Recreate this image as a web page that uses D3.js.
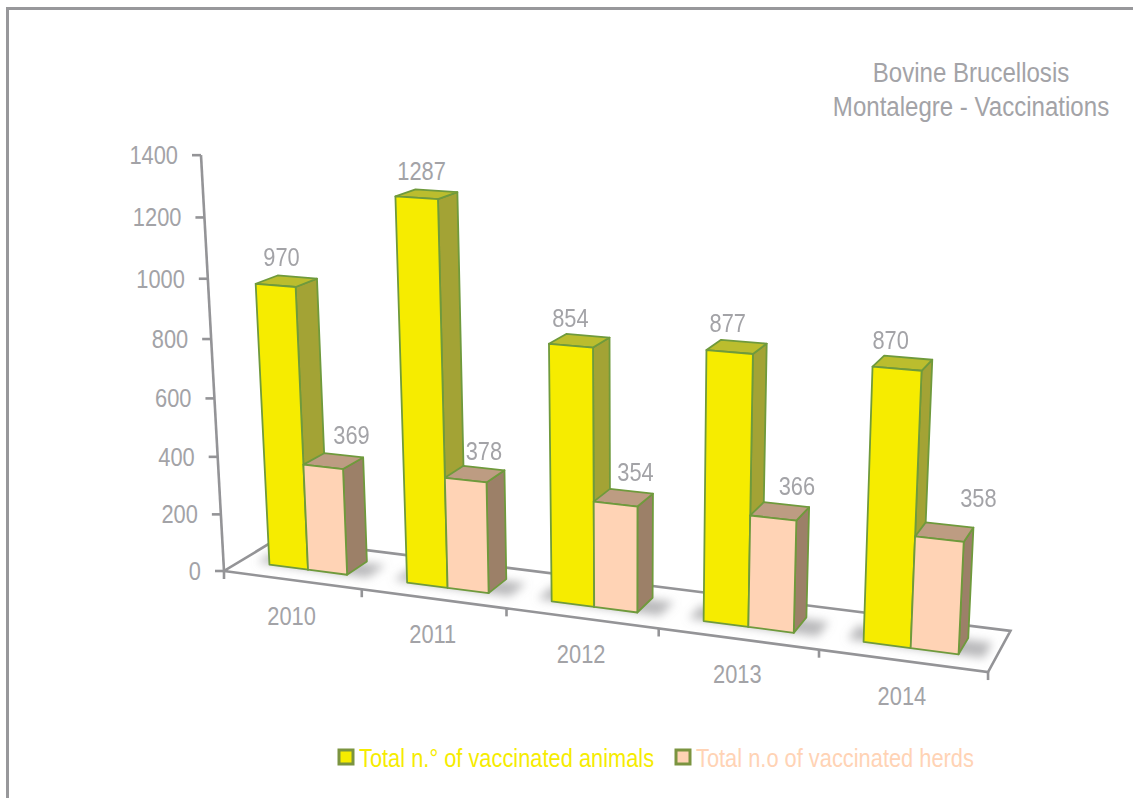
<!DOCTYPE html>
<html>
<head>
<meta charset="utf-8">
<script src="https://cdnjs.cloudflare.com/ajax/libs/d3/7.8.5/d3.min.js"></script>
<style>
html,body{margin:0;padding:0;background:#fff;}
svg{display:block;}
text{font-family:"Liberation Sans",Arial,sans-serif;}
</style>
</head>
<body>
<svg id="c" width="1133" height="798"></svg>
<script>
const years = ["2010","2011","2012","2013","2014"];
const animals = [970,1287,854,877,870];
const herds = [369,378,354,366,358];
const valueTicks = [0,200,400,600,800,1000,1200,1400];
const titleLines = ["Bovine Brucellosis","Montalegre - Vaccinations"];
const seriesNames = ["Total n.° of vaccinated animals","Total n.o of vaccinated herds"];
const animalLabelNudge = [[-5,-24],[-5,-23],[-9,-23],[-9,-24],[-12,-23]];
const herdLabelNudge = [[18,-26],[9,-23],[12,-26],[17,-25],[34,-34]];

const W = 1133, H = 798;
const svg = d3.select("#c");
const GREY = "#a3a3a7", AXIS = "#949497", EDGE = "#6f9a3c";
const FS = 26, SX = 0.84;

// Perspective camera: unit box X (categories), Y (value), Z (depth)
const O = [224,571];
const VX = [-5379,-170], VY = [628,7870], VZ = [1445,-167];
const ka = -0.12, kb = 0.0454, kc = -0.0539;
function project(X,Y,Z){
  const a=ka*X,b=kb*Z,c=kc*Y,d=1+a+b+c;
  return [(a*VX[0]+b*VZ[0]+c*VY[0]+O[0])/d,(a*VX[1]+b*VZ[1]+c*VY[1]+O[1])/d];
}

const band = d3.scaleBand().domain(years).range([0,1]).paddingInner(0.43).paddingOuter(0.215);
const cell = d3.scaleBand().domain(years).range([0,1]);
const inner = d3.scaleBand().domain(["animals","herds"]).range([0,band.bandwidth()]);
const yS = d3.scaleLinear().domain([0,1400]).range([0,1]);
const depth = d3.scaleLinear().domain([0,1]).range([0.3055,0.7075]);

const defs = svg.append("defs");
defs.append("filter").attr("id","blur").attr("x","-30%").attr("y","-60%").attr("width","160%").attr("height","220%")
  .append("feGaussianBlur").attr("stdDeviation",5);

// frame
svg.append("path").attr("d",`M7.5,${H} V8.5 H${W}`).attr("fill","none").attr("stroke","#98989b").attr("stroke-width",3);

// title
const titleG = svg.append("g").attr("fill",GREY).attr("font-size",27.5).attr("text-anchor","middle");
titleG.selectAll("text").data(titleLines).join("text")
  .attr("transform",(d,i)=>`translate(971,${i?116:82}) scale(0.875,1)`)
  .text(d=>d);

const line = d3.line();
// floor
const floorPts=[project(0,0,0),project(1,0,0),project(1,0,1),project(0,0,1)];
svg.append("path").attr("d",line(floorPts)+"Z").attr("fill","#fff").attr("stroke",AXIS).attr("stroke-width",2.6);

// y axis
svg.append("path").attr("d",line([project(0,yS(0),0),project(0,yS(1400),0)])).attr("fill","none").attr("stroke",AXIS).attr("stroke-width",2.6);
const axG = svg.append("g");
valueTicks.forEach(v=>{
  const p=project(0,yS(v),0);
  axG.append("line").attr("x1",p[0]-9).attr("x2",p[0]).attr("y1",p[1]).attr("y2",p[1]).attr("stroke",AXIS).attr("stroke-width",2.6);
  axG.append("text").attr("transform",`translate(${p[0]-23},${p[1]+9}) scale(${SX},1)`)
    .attr("text-anchor","end").attr("font-size",FS).attr("fill",GREY).text(v);
});
// x ticks
d3.range(0,years.length+1).forEach(i=>{
  const p=project(i/years.length,0,0);
  axG.append("line").attr("x1",p[0]).attr("x2",p[0]).attr("y1",p[1]).attr("y2",p[1]+8).attr("stroke",AXIS).attr("stroke-width",2.6);
});
years.forEach((y,i)=>{
  const p=project(cell(y)+cell.bandwidth()/2,0,0);
  axG.append("text").attr("transform",`translate(${p[0]-0.5},${p[1]+44.5}) scale(${SX},1)`)
    .attr("text-anchor","middle").attr("font-size",FS).attr("fill",GREY).text(y);
});

// bars
const seriesDefs=[
 {key:"animals",vals:animals,front:"#f6ec00",side:"#a3a335",top:"#bbbd2e",nudge:animalLabelNudge},
 {key:"herds",vals:herds,front:"#ffd3b5",side:"#9c8068",top:"#bd9c82",nudge:herdLabelNudge}
];
const shadowG=svg.append("g").attr("filter","url(#blur)");
const barsG=svg.append("g");
const labelG=svg.append("g");
years.forEach((y,i)=>{
  const x0=band(y);
  const xEnd=x0+band.bandwidth();
  const z0=depth(0),z1=depth(1);
  shadowG.append("path")
    .attr("d",line([project(x0-0.02,0,z0+0.02),project(xEnd+0.03,0,z0-0.01),project(xEnd+0.03,0,z1-0.04),project(x0-0.02,0,z1-0.04)])+"Z")
    .attr("fill","#8a8a8e").attr("opacity",0.6);
  seriesDefs.forEach(s=>{
    const xa=x0+inner(s.key), xb=xa+inner.bandwidth();
    const v=yS(s.vals[i]);
    const g=barsG.append("g").attr("stroke",EDGE).attr("stroke-width",1.8).attr("stroke-linejoin","round");
    g.append("path").attr("fill",s.side).attr("d",line([project(xb,0,z0),project(xb,0,z1),project(xb,v,z1),project(xb,v,z0)])+"Z");
    g.append("path").attr("fill",s.top).attr("d",line([project(xa,v,z0),project(xb,v,z0),project(xb,v,z1),project(xa,v,z1)])+"Z");
    g.append("path").attr("fill",s.front).attr("d",line([project(xa,0,z0),project(xb,0,z0),project(xb,v,z0),project(xa,v,z0)])+"Z");
    const c=project((xa+xb)/2,v,(z0+z1)/2);
    labelG.append("text").attr("transform",`translate(${c[0]+s.nudge[i][0]},${c[1]+s.nudge[i][1]+9}) scale(${SX},1)`)
      .attr("text-anchor","middle").attr("font-size",FS).attr("fill",GREY).text(s.vals[i]);
  });
});

// legend
const lg=svg.append("g");
[[339,359,"#f6ec00","#f6ec00"],[676,696,"#ffd3b5","#ffd3b5"]].forEach((c,i)=>{
  lg.append("rect").attr("x",c[0]).attr("y",750).attr("width",14).attr("height",14)
    .attr("fill",c[2]).attr("stroke","#7b9440").attr("stroke-width",3);
  lg.append("text").attr("transform",`translate(${c[1]},767) scale(${SX},1)`)
    .attr("font-size",FS).attr("fill",c[3]).text(seriesNames[i]);
});
</script>
</body>
</html>
